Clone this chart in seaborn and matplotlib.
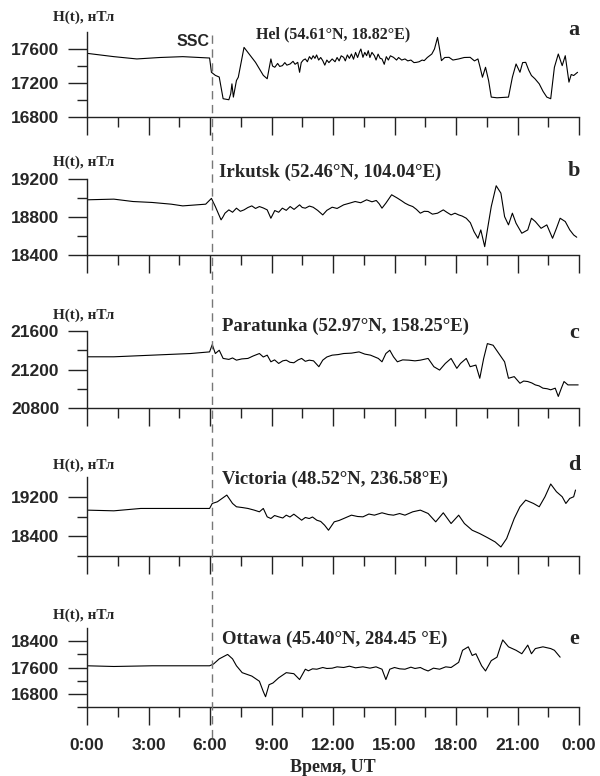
import matplotlib
matplotlib.use("Agg")
import matplotlib.pyplot as plt
import seaborn as sns
from matplotlib.lines import Line2D
from matplotlib.ticker import MultipleLocator, FixedLocator

sns.set_style("ticks")
plt.rcParams['font.family'] = ['Liberation Serif', 'DejaVu Serif']

# hours UT / H component, nT
a_h = [0, 1.31, 2.43, 3.55, 4.67, 5.98, 6.07, 6.26, 6.45, 6.64, 6.92, 7.01, 7.07, 7.14, 7.29, 7.38,
       7.66, 7.85, 8.22, 8.60, 8.79, 8.97, 9.05, 9.16, 9.30, 9.40, 9.53, 9.65, 9.75, 9.91, 10.05, 10.15,
       10.28, 10.37, 10.45, 10.55, 10.65, 10.75, 10.85, 10.95, 11.03, 11.12, 11.20, 11.30, 11.40, 11.50,
       11.60, 11.70, 11.80, 11.96, 12.10, 12.20, 12.30, 12.40, 12.52, 12.60, 12.70, 12.80, 12.90, 13.00,
       13.10, 13.20, 13.30, 13.36, 13.46, 13.55, 13.64, 13.72, 13.80, 13.90, 14.02, 14.10, 14.20, 14.30,
       14.39, 14.50, 14.60, 14.70, 14.80, 14.95, 15.10, 15.20, 15.35, 15.51, 15.65, 15.80, 15.95, 16.07,
       16.20, 16.35, 16.45, 16.60, 16.82, 16.95, 17.10, 17.20, 17.29, 17.45, 17.66, 17.85, 18.13, 18.40,
       18.69, 18.90, 19.07, 19.18, 19.29, 19.44, 19.59, 19.72, 20.0, 20.56, 20.75, 20.93, 21.12, 21.25,
       21.40, 21.55, 21.68, 21.85, 22.06, 22.25, 22.43, 22.62, 22.80, 22.99, 23.18, 23.33, 23.51, 23.62,
       23.74, 23.93]
a_v = [17549, 17510, 17483, 17500, 17510, 17494, 17326, 17290, 17270, 17015, 17003, 17073, 17190, 17034,
       17229, 17268, 17619, 17560, 17443, 17290, 17250, 17483, 17400, 17385, 17430, 17395, 17404, 17440,
       17410, 17424, 17455, 17420, 17443, 17326, 17440, 17470, 17483, 17450, 17510, 17480, 17521, 17490,
       17530, 17470, 17500, 17463, 17410, 17470, 17440, 17483, 17450, 17500, 17460, 17520, 17502, 17460,
       17530, 17490, 17541, 17480, 17560, 17500, 17570, 17600, 17502, 17560, 17521, 17580, 17500, 17560,
       17521, 17470, 17540, 17490, 17483, 17420, 17510, 17470, 17520, 17502, 17470, 17500, 17470, 17483,
       17460, 17470, 17440, 17443, 17450, 17470, 17463, 17500, 17541, 17600, 17736, 17600, 17463, 17500,
       17502, 17470, 17483, 17500, 17502, 17460, 17483, 17380, 17268, 17385, 17229, 17034, 17026, 17034,
       17268, 17424, 17326, 17440, 17443, 17350, 17288, 17250, 17190, 17100, 17034, 17015, 17385, 17541,
       17404, 17521, 17210, 17300, 17288, 17326]

b_h = [0, 1.31, 2.24, 3.18, 4.11, 4.67, 5.79, 6.07, 6.26, 6.54, 6.63, 6.73, 6.92, 7.10, 7.29, 7.48,
       7.66, 7.85, 8.04, 8.22, 8.41, 8.60, 8.79, 8.97, 9.16, 9.35, 9.53, 9.72, 9.91, 10.10, 10.37,
       10.50, 10.65, 10.85, 11.03, 11.25, 11.50, 11.70, 11.96, 12.20, 12.52, 12.80, 13.08, 13.35, 13.64,
       13.90, 14.11, 14.25, 14.39, 14.58, 14.86, 15.14, 15.35, 15.51, 15.70, 15.89, 16.07, 16.26, 16.45,
       16.64, 16.85, 17.10, 17.38, 17.55, 17.76, 17.95, 18.13, 18.30, 18.50, 18.70, 18.88, 19.07, 19.21,
       19.40, 19.53, 19.72, 19.96, 20.19, 20.37, 20.56, 20.75, 20.93, 21.21, 21.50, 21.68, 21.87, 22.15,
       22.43, 22.71, 22.90, 23.08, 23.33, 23.55, 23.74, 23.89]
b_v = [18981, 18988, 18963, 18953, 18935, 18917, 18935, 18996, 18910, 18770, 18800, 18840, 18875, 18850,
       18893, 18860, 18875, 18900, 18917, 18890, 18910, 18895, 18875, 18787, 18868, 18850, 18893, 18870,
       18910, 18880, 18928, 18900, 18893, 18915, 18903, 18870, 18822, 18870, 18903, 18890, 18928, 18945,
       18963, 18950, 18981, 18960, 18974, 18940, 18893, 18946, 19034, 18999, 18970, 18946, 18925, 18910,
       18880, 18840, 18860, 18858, 18830, 18840, 18875, 18850, 18822, 18840, 18822, 18810, 18787, 18740,
       18646, 18576, 18664, 18488, 18664, 18910, 19129, 19051, 18804, 18717, 18840, 18734, 18629, 18664,
       18787, 18752, 18681, 18717, 18576, 18681, 18787, 18752, 18664, 18611, 18587]

c_h = [0, 1.31, 3.18, 5.05, 5.98, 6.11, 6.26, 6.45, 6.64, 6.92, 7.10, 7.29, 7.55, 7.85, 8.10, 8.41,
       8.60, 8.79, 8.97, 9.15, 9.35, 9.55, 9.72, 9.90, 10.09, 10.30, 10.47, 10.65, 10.84, 11.05, 11.31,
       11.50, 11.70, 11.96, 12.25, 12.52, 12.90, 13.27, 13.55, 13.83, 14.21, 14.39, 14.58, 14.77, 14.95,
       15.14, 15.40, 15.70, 16.00, 16.26, 16.64, 16.92, 17.20, 17.48, 17.76, 18.04, 18.22, 18.50, 18.69,
       18.97, 19.16, 19.35, 19.53, 19.81, 20.09, 20.37, 20.56, 20.84, 21.12, 21.30, 21.50, 21.70, 21.87,
       22.05, 22.24, 22.45, 22.62, 22.84, 22.99, 23.14, 23.27, 23.46, 23.74, 23.96]
c_v = [21332, 21332, 21349, 21366, 21383, 21459, 21366, 21400, 21315, 21305, 21320, 21297, 21310, 21315,
       21340, 21366, 21330, 21349, 21280, 21300, 21263, 21290, 21297, 21275, 21270, 21300, 21315, 21285,
       21297, 21290, 21229, 21297, 21330, 21349, 21355, 21366, 21370, 21383, 21360, 21349, 21315, 21280,
       21366, 21400, 21332, 21280, 21300, 21297, 21290, 21297, 21315, 21229, 21194, 21263, 21315, 21212,
       21263, 21315, 21229, 21246, 21109, 21315, 21469, 21452, 21366, 21280, 21109, 21126, 21057, 21080,
       21075, 21060, 21040, 21030, 21006, 21000, 20989, 21006, 20920, 21006, 21075, 21040, 21040, 21040]

d_h = [0, 1.31, 2.62, 4.11, 5.98, 6.11, 6.36, 6.82, 7.10, 7.29, 7.60, 7.85, 8.15, 8.41, 8.60, 8.79,
       8.97, 9.15, 9.35, 9.55, 9.72, 9.90, 10.09, 10.30, 10.47, 10.65, 10.84, 11.00, 11.21, 11.40, 11.59,
       11.78, 12.06, 12.30, 12.52, 12.90, 13.20, 13.46, 13.75, 14.02, 14.39, 14.70, 14.95, 15.25, 15.51,
       15.89, 16.26, 16.64, 17.01, 17.38, 17.76, 18.13, 18.41, 18.79, 19.16, 19.53, 19.91, 20.19, 20.47,
       20.84, 21.12, 21.40, 21.78, 22.06, 22.34, 22.62, 22.90, 23.18, 23.36, 23.55, 23.74, 23.83]
d_v = [18929, 18915, 18963, 18963, 18963, 19064, 19098, 19234, 19064, 18997, 18980, 18963, 18930, 18895,
       18963, 18793, 18759, 18820, 18793, 18770, 18827, 18790, 18847, 18780, 18725, 18780, 18759, 18790,
       18725, 18700, 18624, 18522, 18692, 18720, 18759, 18827, 18800, 18793, 18850, 18827, 18875, 18840,
       18827, 18860, 18827, 18895, 18929, 18861, 18692, 18875, 18658, 18827, 18658, 18522, 18454, 18373,
       18285, 18183, 18353, 18759, 18997, 19132, 19064, 18997, 19200, 19458, 19302, 19200, 19064, 19166,
       19200, 19336]

e_h = [0, 1.31, 3.18, 5.98, 6.17, 6.45, 6.86, 7.10, 7.29, 7.57, 8.04, 8.41, 8.60, 8.71, 8.88, 9.07,
       9.35, 9.72, 10.09, 10.37, 10.65, 10.80, 11.00, 11.21, 11.50, 11.70, 11.96, 12.20, 12.52, 12.80,
       13.10, 13.46, 13.80, 14.10, 14.39, 14.58, 14.77, 15.00, 15.25, 15.51, 15.80, 16.00, 16.26, 16.45,
       16.64, 16.90, 17.20, 17.50, 17.76, 18.13, 18.32, 18.60, 18.79, 18.97, 19.25, 19.44, 19.72, 20.0,
       20.19, 20.28, 20.56, 20.93, 21.21, 21.50, 21.68, 21.87, 22.24, 22.62, 22.80, 23.08]
e_v = [17652, 17631, 17652, 17652, 17705, 17862, 17997, 17862, 17652, 17443, 17339, 17182, 16868, 16711,
       17077, 17129, 17286, 17443, 17412, 17234, 17548, 17500, 17560, 17548, 17600, 17570, 17579, 17620,
       17600, 17640, 17590, 17621, 17580, 17620, 17548, 17234, 17548, 17600, 17560, 17548, 17610, 17570,
       17600, 17540, 17495, 17580, 17548, 17620, 17600, 17757, 18123, 18228, 17966, 18018, 17652, 17495,
       17809, 17914, 18280, 18437, 18228, 18123, 18018, 18280, 18018, 18175, 18228, 18175, 18123, 17914]

stations = ["Hel (54.61°N, 18.82°E)", "Irkutsk (52.46°N, 104.04°E)", "Paratunka (52.97°N, 158.25°E)",
            "Victoria (48.52°N, 236.58°E)", "Ottawa (45.40°N, 284.45 °E)"]
letters = ["a", "b", "c", "d", "e"]
ylims = [(16800, 17800), (18400, 19200), (20800, 21600), (18000, 19600), (16400, 18800)]
major_y = [[16800, 17200, 17600], [18400, 18800, 19200], [20800, 21200, 21600],
           [18400, 19200], [16800, 17600, 18400]]
minor_y = [[17000, 17400], [18600, 19000], [21000, 21400], [18000, 18800], [16400, 17200, 18000]]
ssc_hour = 6.1

series = [(a_h, a_v), (b_h, b_v), (c_h, c_v), (d_h, d_v), (e_h, e_v)]

W, H = 600, 776
fig = plt.figure(figsize=(6, 7.76), dpi=100)
# panel boxes in pixels: top, bottom
boxes = [(32, 117), (179, 255), (331, 408), (477, 556), (628, 707)]
label_y = [17, 162, 315, 465, 615]
station_y = [[256, 34, 11.5], [219, 172, 13.5], [222, 326, 13.5], [222, 479, 13.5], [222, 639, 13.5]]
letter_y = [30, 171, 333, 465, 639]

axes = []
for i, ((t, b), (hh, vv)) in enumerate(zip(boxes, series)):
    ax = fig.add_axes([87 / W, 1 - b / H, 492 / W, (b - t) / H])
    sns.lineplot(x=hh, y=vv, ax=ax, color="black", linewidth=0.8, estimator=None, sort=False)
    ax.set_xlim(0, 24)
    ax.set_ylim(*ylims[i])
    sns.despine(ax=ax)
    for s in ["left", "bottom"]:
        ax.spines[s].set_linewidth(1.0)
        ax.spines[s].set_color("#222222")
    ax.xaxis.set_major_locator(MultipleLocator(3))
    ax.xaxis.set_minor_locator(MultipleLocator(1.5))
    ax.yaxis.set_major_locator(FixedLocator(major_y[i]))
    ax.yaxis.set_minor_locator(FixedLocator(minor_y[i]))
    ax.tick_params(axis="x", which="major", direction="out", length=13, width=1.0, color="#222222")
    ax.tick_params(axis="x", which="minor", direction="out", length=7, width=1.0, color="#222222")
    ax.tick_params(axis="y", which="major", direction="out", length=14, width=1.0, color="#222222", pad=6)
    ax.tick_params(axis="y", which="minor", direction="out", length=7, width=1.0, color="#222222")
    for lab in ax.get_yticklabels():
        lab.set_fontfamily("Liberation Sans")
        lab.set_fontweight("bold")
        lab.set_fontsize(12.5)
    ax.set_xlabel("")
    ax.set_ylabel("")
    if i < 4:
        ax.set_xticklabels([])
    else:
        ax.set_xticks([0, 3, 6, 9, 12, 15, 18, 21, 24])
        ax.set_xticklabels(["0:00", "3:00", "6:00", "9:00", "12:00", "15:00", "18:00", "21:00", "0:00"],
                           fontfamily="Liberation Sans", fontweight="bold", fontsize=12.5)
        ax.tick_params(axis="x", which="major", pad=9)
    fig.text(84 / W, 1 - label_y[i] / H, "H(t), нТл", ha="center", va="center",
             fontsize=11, fontweight="bold")
    sx, sy, fs = station_y[i]
    fig.text(sx / W, 1 - sy / H, stations[i], ha="left", va="center", fontsize=fs, fontweight="bold")
    fig.text(574 / W, 1 - letter_y[i] / H, letters[i], ha="center", va="center",
             fontsize=16, fontweight="bold")
    axes.append(ax)

fig.text(193 / W, 1 - 42 / H, "SSC", ha="center", va="center", fontsize=11.5,
         fontweight="bold", family=["Liberation Sans"])
fig.text(333 / W, 1 - 767 / H, "Время, UT", ha="center", va="center", fontsize=13, fontweight="bold")

# SSC dashed line through all panels
x_fig = fig.transFigure.inverted().transform(axes[0].transData.transform((ssc_hour, 17000)))[0]
fig.add_artist(Line2D([x_fig, x_fig], [1 - 35 / H, 1 - 738 / H], transform=fig.transFigure,
                      color="#777777", linewidth=1.0, linestyle=(0, (6, 4))))

fig.savefig("out.png", dpi=100)
